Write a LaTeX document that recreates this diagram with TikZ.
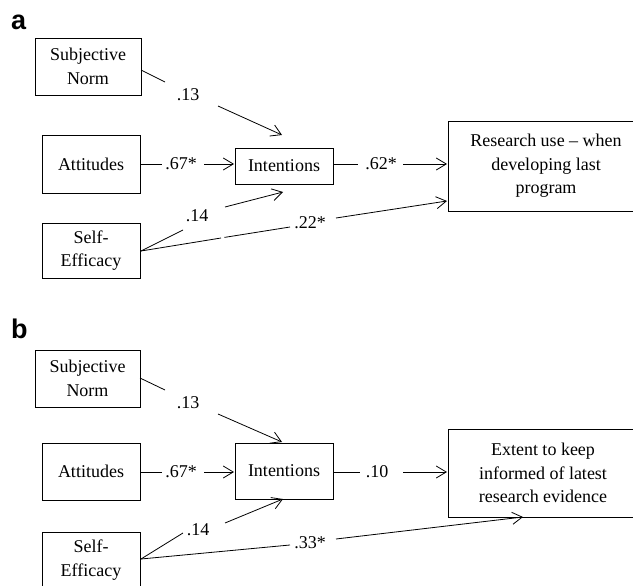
\documentclass[tikz,border=0pt]{standalone}
\usepackage{fontspec}
\setmainfont{Liberation Serif}
\setsansfont{Liberation Sans}
\usetikzlibrary{arrows.meta}
\begin{document}
\begin{tikzpicture}[x=1pt,y=-1pt,
 box/.style={draw, line width=0.8pt, inner sep=0pt, align=center, font=\rmfamily\fontsize{18}{23.5}\selectfont},
 lab/.style={inner sep=0pt, font=\rmfamily\fontsize{18}{21}\selectfont},
 conn/.style={line width=0.8pt},
 arr/.style={conn, -{Straight Barb[length=10pt,width=12pt]}},
 panel/.style={inner sep=0pt, anchor=base west, font=\sffamily\bfseries\fontsize{27}{27}\selectfont}]
\useasboundingbox (0,0) rectangle (633,586);
\clip (0,0) rectangle (633,586);

% ---------- panel a ----------
\node[panel] (pa) at (11,30) {a};
\node[box, minimum width=106pt, minimum height=57pt] (sna) at (88,66.5) {Subjective\\Norm};
\node[box, minimum width=98pt, minimum height=58pt] (atta) at (91,164) {Attitudes};
\node[box, minimum width=98pt, minimum height=36pt] (inta) at (284,166) {Intentions};
\node[box, minimum width=98pt, minimum height=55pt] (sea) at (91,250.5) {Self-\\Efficacy};
\node[box, minimum width=196pt, minimum height=90pt] (resa) at (546,166) {Research use -- when\\developing last\\program};

\node[lab] (la13) at (188,95) {.13};
\node[lab] (la67) at (181,164) {.67*};
\node[lab] (la14) at (197,216) {.14};
\node[lab] (la22) at (310,223) {.22*};
\node[lab] (la62) at (381,164) {.62*};

\coordinate (a1s) at (141,70);  \coordinate (a1e) at (165,82);
\coordinate (a1f) at (218,106); \coordinate (a1t) at (282,135);
\coordinate (a2s) at (140,164); \coordinate (a2e) at (162,164);
\coordinate (a2f) at (204,164); \coordinate (a2t) at (234,164);
\coordinate (a3s) at (141,251); \coordinate (a3e) at (183,230);
\coordinate (a3f) at (225,207); \coordinate (a3t) at (283,192);
\coordinate (a4e) at (221,238); \coordinate (a4g) at (224.5,237.4);
\coordinate (a4h) at (290,227);
\coordinate (a4f) at (336,218); \coordinate (a4t) at (447,201);
\coordinate (a5s) at (333,164); \coordinate (a5e) at (358,164);
\coordinate (a5f) at (403,164); \coordinate (a5t) at (447,164);

\draw[conn] (a1s) -- (a1e);  \draw[arr] (a1f) -- (a1t);
\draw[conn] (a2s) -- (a2e);  \draw[arr] (a2f) -- (a2t);
\draw[conn] (a3s) -- (a3e);  \draw[arr] (a3f) -- (a3t);
\draw[conn] (a3s) -- (a4e);  \draw[conn] (a4g) -- (a4h); \draw[arr] (a4f) -- (a4t);
\draw[conn] (a5s) -- (a5e);  \draw[arr] (a5f) -- (a5t);

% ---------- panel b ----------
\node[panel] (pb) at (11,338) {b};
\node[box, minimum width=105pt, minimum height=57pt] (snb) at (87.5,378.5) {Subjective\\Norm};
\node[box, minimum width=98pt, minimum height=57pt] (attb) at (91,471.5) {Attitudes};
\node[box, minimum width=98pt, minimum height=56pt] (intb) at (284,471) {Intentions};
\node[box, minimum width=98pt, minimum height=56pt] (seb) at (91,560) {Self-\\Efficacy};
\node[box, minimum width=190pt, minimum height=88pt] (resb) at (543,473) {Extent to keep\\informed of latest\\research evidence};

\node[lab] (lb13) at (188,403) {.13};
\node[lab] (lb67) at (181,472) {.67*};
\node[lab] (lb14) at (198,530) {.14};
\node[lab] (lb33) at (310,543) {.33*};
\node[lab] (lb10) at (377,472) {.10};

\coordinate (b1s) at (140,378); \coordinate (b1e) at (165,390);
\coordinate (b1f) at (218,414); \coordinate (b1t) at (282,442);
\coordinate (b2s) at (140,472); \coordinate (b2e) at (162,472);
\coordinate (b2f) at (204,472); \coordinate (b2t) at (234,472);
\coordinate (b3s) at (141,559); \coordinate (b3e) at (183,533);
\coordinate (b3f) at (225,523); \coordinate (b3t) at (283,499);
\coordinate (b4e) at (290,545);
\coordinate (b4f) at (336,539); \coordinate (b4t) at (523,517);
\coordinate (b5s) at (333,472); \coordinate (b5e) at (360,472);
\coordinate (b5f) at (403,472); \coordinate (b5t) at (447,472);

\draw[conn] (b1s) -- (b1e);  \draw[arr] (b1f) -- (b1t);
\draw[conn] (b2s) -- (b2e);  \draw[arr] (b2f) -- (b2t);
\draw[conn] (b3s) -- (b3e);  \draw[arr] (b3f) -- (b3t);
\draw[conn] (b3s) -- (b4e);  \draw[arr] (b4f) -- (b4t);
\draw[conn] (b5s) -- (b5e);  \draw[arr] (b5f) -- (b5t);
\end{tikzpicture}
\end{document}
